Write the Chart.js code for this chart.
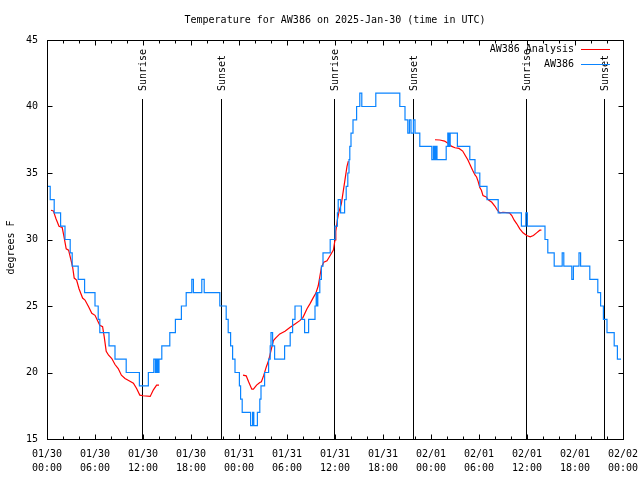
<!DOCTYPE html>
<html>
<head>
<meta charset="utf-8">
<script src="https://cdn.jsdelivr.net/npm/chart.js@4.4.1/dist/chart.umd.min.js"></script>
<style>
html,body{margin:0;padding:0;background:#fff;}
#wrap{width:640px;height:480px;}
</style>
</head>
<body>
<div id="wrap"><canvas id="c" width="640" height="480"></canvas></div>
<script>
// ---------- data ----------
const chartTitle = 'Temperature for AW386 on 2025-Jan-30 (time in UTC)';
const yAxisTitle = 'degrees F';
const seriesNames = ['AW386 Analysis', 'AW386'];
const xTickDates = ['01/30','01/30','01/30','01/30','01/31','01/31','01/31','01/31','02/01','02/01','02/01','02/01','02/02'];
const xTickTimes = ['00:00','06:00','12:00','18:00','00:00','06:00','12:00','18:00','00:00','06:00','12:00','18:00','00:00'];
const sunriseHours = [11.875, 35.875, 59.875];
const sunsetHours = [21.75, 45.75, 69.67];

// observed station temperatures (hours since 01/30 00:00 UTC, deg F)
const obsHours = [0.0,0.4,0.9,1.7,2.25,2.9,3.15,3.9,4.7,6.0,6.4,6.6,7.75,8.5,9.9,11.55,12.67,13.35,13.55,13.7,13.85,14.0,14.35,15.35,16.05,16.8,17.4,18.1,18.3,19.35,19.65,21.6,22.4,22.65,22.95,23.2,23.5,24.05,24.2,24.4,25.45,25.7,25.85,26.3,26.6,26.75,27.2,27.7,27.9,28.0,28.2,28.45,29.7,30.4,30.7,31.0,31.8,32.2,32.7,33.5,33.65,33.75,33.85,34.1,34.3,34.5,35.4,36.0,36.3,36.4,36.7,37.2,37.4,37.6,37.75,37.85,38.0,38.25,38.7,39.1,39.35,41.1,44.1,44.75,45.1,45.3,45.5,45.8,46.0,46.6,48.1,48.3,48.45,48.6,48.75,49.9,50.1,50.25,50.4,51.3,52.85,53.5,54.1,55.0,56.4,59.3,59.85,60.05,62.25,62.6,63.4,64.4,64.6,65.6,65.8,66.5,66.7,67.85,68.85,69.2,69.55,70.0,70.9,71.3,71.75];
const obsTemps = [34,33,32,31,30,29,28,27,26,25,24,23,22,21,20,19,20,21,20,21,20,21,22,23,24,25,26,27,26,27,26,25,24,23,22,21,20,19,18,17,16,17,16,17,18,19,20,21,22,23,22,21,22,23,24,25,24,23,24,25,26,25,26,27,28,29,30,31,32,33,32,33,34,35,36,37,38,39,40,41,40,41,40,39,38,39,38,39,38,37,36,37,36,37,36,37,38,37,38,37,36,35,34,33,32,31,32,31,30,29,28,29,28,27,28,29,28,27,26,25,24,23,22,21,21];

// analysis series (null = gap)
const anaHours = [0.5,0.8,1.1,1.5,1.9,2.1,2.4,2.7,3.0,3.2,3.4,3.7,4.0,4.45,4.75,5.2,5.6,6.0,6.6,6.95,7.15,7.4,7.7,8.1,8.5,8.9,9.3,9.75,10.2,10.8,11.2,11.6,12.0,12.9,13.3,13.7,14.0,
  14.1,
  24.5,24.9,25.2,25.6,25.8,26.2,26.6,26.8,27.1,27.4,27.7,27.9,28.3,28.6,29.1,29.75,30.4,31.0,31.6,32.0,32.5,32.9,33.3,33.6,33.9,34.1,34.3,34.6,35.0,35.4,35.8,36.0,36.1,36.3,36.5,36.8,37.0,37.25,37.5,37.67,
  37.8,
  48.5,49.1,49.7,50.2,50.6,51.0,51.5,51.96,52.3,52.6,52.9,53.2,53.5,53.7,53.9,54.1,54.3,54.5,54.9,55.2,55.6,56.0,56.3,56.6,57.0,57.8,58.1,58.4,58.7,59.1,59.5,59.96,60.4,60.8,61.2,61.6,61.8];
const anaTemps = [32.2,32.15,31.6,31.0,30.9,30.3,29.3,29.2,28.45,27.95,27.1,26.95,26.3,25.6,25.45,24.95,24.45,24.3,23.55,23.45,22.7,21.6,21.3,21.05,20.6,20.3,19.8,19.55,19.4,19.2,18.8,18.3,18.25,18.2,18.7,19.05,19.05,
  null,
  19.8,19.75,19.3,18.75,18.75,19.05,19.25,19.3,19.8,20.4,20.9,21.4,22.4,22.6,22.9,23.1,23.4,23.65,23.9,24.15,24.8,25.2,25.65,25.95,26.5,27.2,27.9,28.3,28.4,28.8,29.2,29.97,30.6,31.5,32.1,32.7,33.5,34.5,35.5,35.9,
  null,
  37.5,37.48,37.4,37.2,37.0,36.9,36.85,36.65,36.3,36.0,35.6,35.2,34.85,34.7,34.35,33.9,33.7,33.3,33.2,32.97,32.8,32.5,32.2,32.0,32.05,32.0,31.8,31.45,31.2,30.8,30.5,30.3,30.2,30.3,30.5,30.7,30.7];

// ---------- chart ----------
const FONT = "'DejaVu Sans Mono', 'Liberation Mono', monospace";
const RED = '#ff0000';
const BLUE = '#0a84ff';

function toPoints(hs, ts) { return hs.map((h, i) => ({ x: h, y: ts[i] })); }

const overlay = {
  id: 'overlay',
  beforeDatasetsDraw(chart) {
    const { ctx, chartArea: a, scales: { x } } = chart;
    ctx.save();
    ctx.strokeStyle = '#000';
    ctx.lineWidth = 1;
    ctx.fillStyle = '#000';
    ctx.font = '10px ' + FONT;
    const lineTop = a.top + 59;
    const marks = sunriseHours.map(h => [h, 'Sunrise']).concat(sunsetHours.map(h => [h, 'Sunset']));
    for (const [h, label] of marks) {
      const px = Math.round(x.getPixelForValue(h)) + 0.5;
      ctx.beginPath(); ctx.moveTo(px, lineTop); ctx.lineTo(px, a.bottom); ctx.stroke();
      ctx.save();
      ctx.translate(px + 1, lineTop - 8);
      ctx.rotate(-Math.PI / 2);
      ctx.textAlign = 'left'; ctx.textBaseline = 'middle';
      ctx.fillText(label, 0, 0);
      ctx.restore();
    }
    ctx.restore();
  },
  afterDraw(chart) {
    const { ctx, chartArea: a, scales: { x, y } } = chart;
    ctx.save();
    ctx.strokeStyle = '#000';
    ctx.fillStyle = '#000';
    ctx.lineWidth = 1;
    const L = Math.round(a.left) + 0.5, R = Math.round(a.right) + 0.5;
    const T = Math.round(a.top) + 0.5, B = Math.round(a.bottom) + 0.5;
    ctx.strokeRect(L, T, R - L, B - T);
    ctx.beginPath();
    for (let h = 0; h <= 72; h += 2) {
      const px = Math.round(x.getPixelForValue(h)) + 0.5;
      const len = (h % 6 === 0) ? 5 : 3;
      ctx.moveTo(px, B); ctx.lineTo(px, B - len);
      ctx.moveTo(px, T); ctx.lineTo(px, T + len);
    }
    for (let v = 15; v <= 45; v += 5) {
      const py = Math.round(y.getPixelForValue(v)) + 0.5;
      ctx.moveTo(L, py); ctx.lineTo(L + 5, py);
      ctx.moveTo(R, py); ctx.lineTo(R - 5, py);
    }
    ctx.stroke();

    ctx.font = '10px ' + FONT;
    // title
    ctx.textAlign = 'center'; ctx.textBaseline = 'middle';
    ctx.fillText(chartTitle, (a.left + a.right) / 2, 20);
    // y title
    ctx.save();
    ctx.translate(11, (a.top + a.bottom) / 2 + 8);
    ctx.rotate(-Math.PI / 2);
    ctx.fillText(yAxisTitle, 0, 0);
    ctx.restore();
    // legend
    const colors = [RED, BLUE];
    seriesNames.forEach((name, i) => {
      const ry = Math.round(a.top + 9 + i * 15) + 0.5;
      ctx.fillStyle = '#000';
      ctx.textAlign = 'right'; ctx.textBaseline = 'middle';
      ctx.fillText(name, a.right - 49, ry);
      ctx.strokeStyle = colors[i];
      ctx.beginPath(); ctx.moveTo(a.right - 42, ry); ctx.lineTo(a.right - 13, ry); ctx.stroke();
    });
    ctx.restore();
  }
};

new Chart(document.getElementById('c').getContext('2d'), {
  type: 'line',
  data: {
    datasets: [
      {
        label: seriesNames[1],
        data: toPoints(obsHours, obsTemps),
        borderColor: BLUE,
        borderWidth: 1.2,
        pointRadius: 0,
        stepped: 'before',
        fill: false,
        order: 0
      },
      {
        label: seriesNames[0],
        data: toPoints(anaHours, anaTemps),
        borderColor: RED,
        borderWidth: 1.2,
        pointRadius: 0,
        spanGaps: false,
        tension: 0,
        fill: false,
        order: 1
      }
    ]
  },
  options: {
    responsive: false,
    animation: false,
    devicePixelRatio: 1,
    layout: { padding: { top: 40, right: 17, left: 0, bottom: 0 } },
    plugins: { legend: { display: false }, title: { display: false }, tooltip: { enabled: false } },
    scales: {
      x: {
        type: 'linear', min: 0, max: 72,
        grid: { display: false, drawTicks: false },
        border: { display: false },
        ticks: {
          stepSize: 6, autoSkip: false, maxRotation: 0, minRotation: 0,
          color: '#000', padding: 8,
          font: { family: FONT, size: 10, lineHeight: 1.4 },
          callback: (v) => { const i = Math.round(v / 6); return [xTickDates[i], xTickTimes[i]]; }
        },
        afterFit: (s) => { s.height = 41; s.paddingLeft = 0; s.paddingRight = 0; }
      },
      y: {
        type: 'linear', min: 15, max: 45,
        grid: { display: false, drawTicks: false },
        border: { display: false },
        ticks: {
          stepSize: 5, color: '#000', padding: 9,
          font: { family: FONT, size: 10 }
        },
        afterFit: (s) => { s.width = 47; s.paddingTop = 0; s.paddingBottom = 0; }
      }
    }
  },
  plugins: [overlay]
});
</script>
</body>
</html>
